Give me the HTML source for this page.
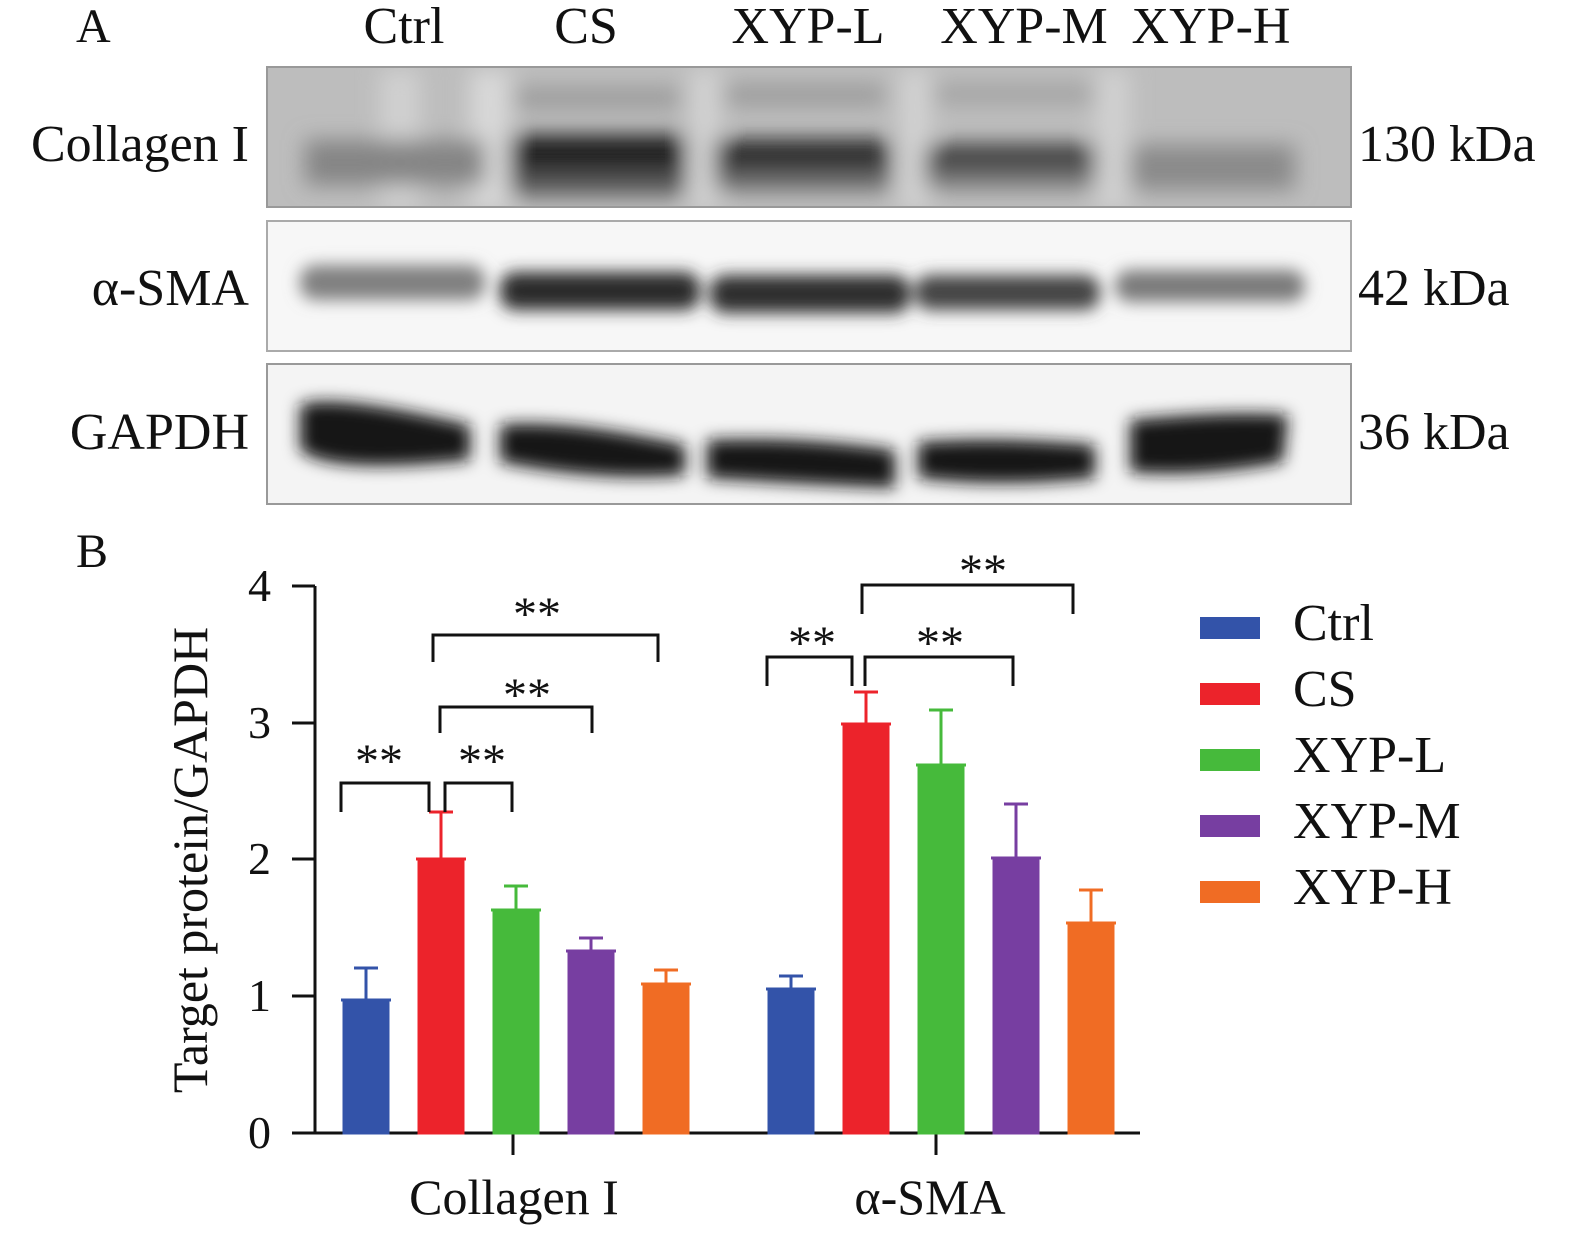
<!DOCTYPE html>
<html><head><meta charset="utf-8"><style>
html,body{margin:0;padding:0;background:#fff;}
svg{display:block;}
text{font-family:"Liberation Serif",serif;fill:#111;}
</style></head><body>
<svg width="1575" height="1238" viewBox="0 0 1575 1238" xmlns="http://www.w3.org/2000/svg">
<defs>
<filter id="b1" x="-20%" y="-50%" width="140%" height="200%"><feGaussianBlur stdDeviation="11"/></filter>
<filter id="b2" x="-20%" y="-50%" width="140%" height="200%"><feGaussianBlur stdDeviation="8"/></filter>
<clipPath id="c1"><rect x="267" y="67" width="1084" height="140"/></clipPath>
<clipPath id="c2"><rect x="267" y="221" width="1084" height="130"/></clipPath>
<clipPath id="c3"><rect x="267" y="364" width="1084" height="140"/></clipPath>
</defs>
<text x="76" y="42" font-size="48">A</text>
<text x="76" y="567" font-size="48">B</text>
<g font-size="52" text-anchor="middle">
<text x="404" y="43">Ctrl</text><text x="586" y="43">CS</text><text x="808" y="43">XYP-L</text><text x="1024" y="43">XYP-M</text><text x="1211" y="43">XYP-H</text>
</g>
<g font-size="52" text-anchor="end">
<text x="249" y="161">Collagen I</text><text x="249" y="305">α-SMA</text><text x="249" y="449">GAPDH</text>
</g>
<g font-size="52">
<text x="1358" y="161">130 kDa</text><text x="1358" y="305">42 kDa</text><text x="1358" y="449">36 kDa</text>
</g>
<!-- panel 1 -->
<g clip-path="url(#c1)">
<rect x="267" y="67" width="1084" height="140" fill="#bdbdbd"/>
<g filter="url(#b1)">
<rect x="380" y="70" width="40" height="140" fill="#d0d0d0"/>
<rect x="470" y="70" width="40" height="140" fill="#d8d8d8"/>
<rect x="690" y="70" width="30" height="140" fill="#d2d2d2"/>
<rect x="900" y="70" width="30" height="140" fill="#d2d2d2"/>
<rect x="1095" y="70" width="35" height="140" fill="#d0d0d0"/>
<rect x="305" y="140" width="180" height="45" fill="#858585"/>
<rect x="510" y="145" width="175" height="50" fill="#555"/>
<rect x="510" y="135" width="175" height="35" fill="#1d1d1d"/>
<rect x="515" y="88" width="165" height="20" fill="#999"/>
<rect x="715" y="140" width="175" height="50" fill="#666"/>
<rect x="718" y="140" width="170" height="28" fill="#222"/>
<rect x="725" y="85" width="160" height="20" fill="#999"/>
<rect x="925" y="148" width="170" height="40" fill="#737373"/>
<rect x="930" y="145" width="165" height="22" fill="#333"/>
<rect x="935" y="85" width="160" height="18" fill="#a0a0a0"/>
<rect x="1130" y="145" width="165" height="45" fill="#8a8a8a"/>
</g></g>
<rect x="267" y="67" width="1084" height="140" fill="none" stroke="#999" stroke-width="2"/>
<!-- panel 2 -->
<g clip-path="url(#c2)">
<rect x="267" y="221" width="1084" height="130" fill="#f7f7f7"/>
<g filter="url(#b2)">
<rect x="300" y="265" width="185" height="35" rx="15" fill="#808080"/>
<rect x="500" y="272" width="200" height="38" rx="15" fill="#2a2a2a"/>
<rect x="710" y="275" width="200" height="38" rx="15" fill="#2e2e2e"/>
<rect x="915" y="275" width="185" height="35" rx="15" fill="#444"/>
<rect x="1115" y="270" width="190" height="32" rx="15" fill="#7a7a7a"/>
</g></g>
<rect x="267" y="221" width="1084" height="130" fill="none" stroke="#aaa" stroke-width="2"/>
<!-- panel 3 -->
<g clip-path="url(#c3)">
<rect x="267" y="364" width="1084" height="140" fill="#f4f4f4"/>
<g filter="url(#b2)">
<path d="M300 405 Q330 392 470 425 L470 460 Q330 475 300 450 Z" fill="#141414"/>
<path d="M500 425 Q560 418 685 445 L685 475 Q600 482 500 462 Z" fill="#141414"/>
<path d="M707 440 Q800 436 895 450 L895 488 Q800 484 707 478 Z" fill="#141414"/>
<path d="M918 442 Q1000 436 1095 445 L1095 478 Q1000 488 918 478 Z" fill="#141414"/>
<path d="M1130 420 Q1230 410 1288 415 L1283 462 Q1200 478 1130 472 Z" fill="#141414"/>
</g></g>
<rect x="267" y="364" width="1084" height="140" fill="none" stroke="#999" stroke-width="2"/>

<!-- chart -->
<g font-size="46" text-anchor="end">
<text x="271" y="601">4</text><text x="271" y="738">3</text><text x="271" y="874">2</text><text x="271" y="1011">1</text><text x="271" y="1148">0</text>
</g>
<text transform="translate(207,860) rotate(-90)" font-size="50" text-anchor="middle">Target protein/GAPDH</text>
<g stroke="#111" stroke-width="3" fill="none">
<path d="M315 586 V1133 H1140"/>
<path d="M292 586 H315 M292 723 H315 M292 859 H315 M292 996 H315 M292 1133 H315"/>
<path d="M513 1133 V1155 M936 1133 V1155"/>
</g>
<g font-size="50" text-anchor="middle">
<text x="514" y="1214">Collagen I</text><text x="930" y="1214">α-SMA</text>
</g>
<!-- bars -->
<g stroke-width="3">
<g fill="#3353a9" stroke="#3353a9"><rect x="344" y="1000" width="44" height="133"/><line x1="366" y1="1000" x2="366" y2="968"/><line x1="354" y1="968" x2="378" y2="968"/><line x1="341" y1="1000" x2="391" y2="1000"/>
<rect x="769" y="989" width="44" height="144"/><line x1="791" y1="989" x2="791" y2="976"/><line x1="779" y1="976" x2="803" y2="976"/><line x1="766" y1="989" x2="816" y2="989"/></g>
<g fill="#ec232b" stroke="#ec232b"><rect x="419" y="859" width="44" height="274"/><line x1="441" y1="859" x2="441" y2="812"/><line x1="429" y1="812" x2="453" y2="812"/><line x1="416" y1="859" x2="466" y2="859"/>
<rect x="844" y="724" width="44" height="409"/><line x1="866" y1="724" x2="866" y2="692"/><line x1="854" y1="692" x2="878" y2="692"/><line x1="841" y1="724" x2="891" y2="724"/></g>
<g fill="#46ba3b" stroke="#46ba3b"><rect x="494" y="910" width="44" height="223"/><line x1="516" y1="910" x2="516" y2="886"/><line x1="504" y1="886" x2="528" y2="886"/><line x1="491" y1="910" x2="541" y2="910"/>
<rect x="919" y="765" width="44" height="368"/><line x1="941" y1="765" x2="941" y2="710"/><line x1="929" y1="710" x2="953" y2="710"/><line x1="916" y1="765" x2="966" y2="765"/></g>
<g fill="#773ea1" stroke="#773ea1"><rect x="569" y="951" width="44" height="182"/><line x1="591" y1="951" x2="591" y2="938"/><line x1="579" y1="938" x2="603" y2="938"/><line x1="566" y1="951" x2="616" y2="951"/>
<rect x="994" y="858" width="44" height="275"/><line x1="1016" y1="858" x2="1016" y2="804"/><line x1="1004" y1="804" x2="1028" y2="804"/><line x1="991" y1="858" x2="1041" y2="858"/></g>
<g fill="#f06c24" stroke="#f06c24"><rect x="644" y="984" width="44" height="149"/><line x1="666" y1="984" x2="666" y2="970"/><line x1="654" y1="970" x2="678" y2="970"/><line x1="641" y1="984" x2="691" y2="984"/>
<rect x="1069" y="923" width="44" height="210"/><line x1="1091" y1="923" x2="1091" y2="890"/><line x1="1079" y1="890" x2="1103" y2="890"/><line x1="1066" y1="923" x2="1116" y2="923"/></g>
</g>
<!-- brackets -->
<g stroke="#111" stroke-width="3" fill="none">
<path d="M341 812 V783 H429 V812"/><path d="M445 812 V783 H512 V812"/>
<path d="M440 733 V707 H592 V733"/><path d="M433 662 V635 H658 V662"/>
<path d="M767 686 V657 H852 V686"/><path d="M865 686 V657 H1013 V686"/><path d="M862 614 V585 H1073 V614"/>
</g>
<g font-size="48" text-anchor="middle">
<text x="379" y="777">**</text><text x="482" y="777">**</text><text x="527" y="711">**</text><text x="537" y="630">**</text>
<text x="812" y="659">**</text><text x="940" y="659">**</text><text x="983" y="587">**</text>
</g>
<!-- legend -->
<rect x="1200" y="617" width="60" height="22" fill="#3353a9"/>
<rect x="1200" y="683" width="60" height="22" fill="#ec232b"/>
<rect x="1200" y="749" width="60" height="22" fill="#46ba3b"/>
<rect x="1200" y="815" width="60" height="22" fill="#773ea1"/>
<rect x="1200" y="881" width="60" height="22" fill="#f06c24"/>
<g font-size="52">
<text x="1293" y="640">Ctrl</text><text x="1293" y="706">CS</text><text x="1293" y="772">XYP-L</text><text x="1293" y="838">XYP-M</text><text x="1293" y="904">XYP-H</text>
</g>
</svg>
</body></html>
